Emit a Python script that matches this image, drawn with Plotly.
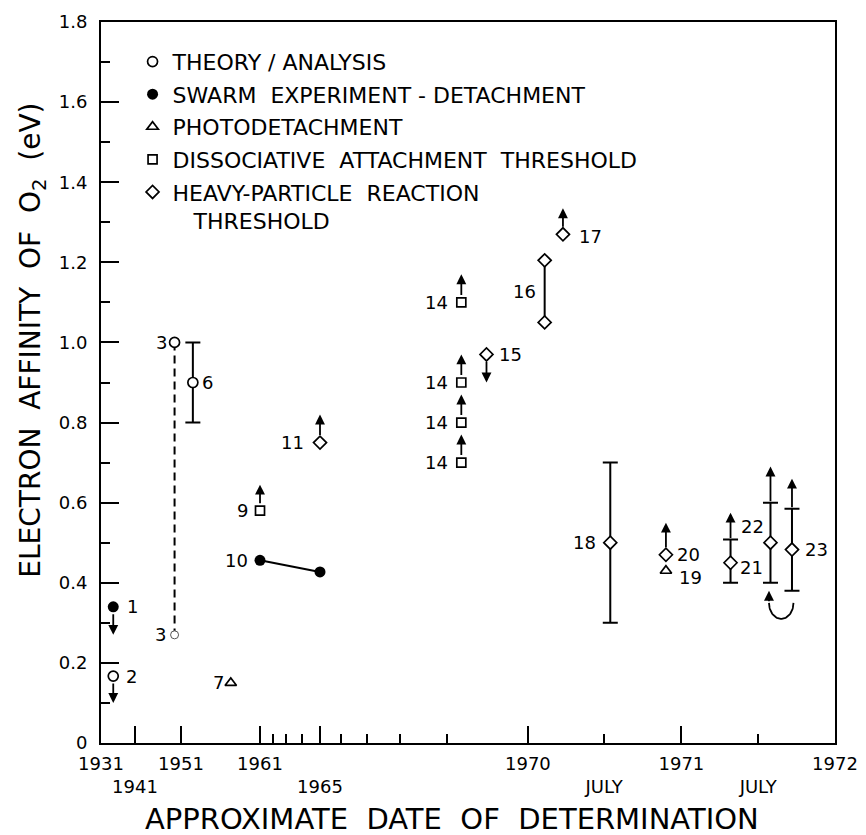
import numpy as np
import plotly.graph_objects as go

# ---------------- non-uniform time axis: date -> drawn position ----------------
AXIS_YEARS = [1931, 1941, 1951, 1961, 1962, 1963, 1964, 1965, 1966, 1967, 1968, 1969,
              1970, 1970.5, 1971, 1971.5, 1972]
AXIS_POS = [0, 34, 80, 159, 171.7, 184.7, 201, 219, 239.7, 265.7, 299, 345.7,
            426.9, 503.1, 580.4, 657.2, 734]


def tx(years):
    return [float(v) for v in np.interp(np.atleast_1d(years), AXIS_YEARS, AXIS_POS)]


MAJOR_TICK_YEARS = [1941, 1951, 1961, 1965, 1970, 1971]
MINOR_TICK_YEARS = [1962, 1963, 1964, 1966, 1967, 1968, 1969, 1970.5, 1971.5]
LABEL_YEARS = [1931, 1941, 1951, 1961, 1965, 1970, 1970.5, 1971, 1971.5, 1972]
LABEL_TEXT = ["1931", "<br>1941", "1951", "1961", "<br>1965", "1970",
              "<br>JULY", "1971", "<br>JULY", "1972"]

Y_TICKS = [0, 0.2, 0.4, 0.6, 0.8, 1.0, 1.2, 1.4, 1.6, 1.8]
Y_TICK_TEXT = ["0", "0.2", "0.4", "0.6", "0.8", "1.0", "1.2", "1.4", "1.6", "1.8"]
Y_MINOR = [0.1, 0.3, 0.5, 0.7, 0.9, 1.1, 1.3, 1.5, 1.7]

# ---------------- data (electron affinity of O2, eV) ----------------
# Theory / analysis (open circles)
theory_year = [1934.6, 1949.6, 1952.5]
theory_ea = [0.167, 1.00, 0.90]
ref3_year = 1949.6
ref3_low = 0.27          # dashed range lower end (ref 3)

# Swarm experiment - detachment (filled circles)
swarm_year = [1934.6, 1961, 1965]
swarm_ea = [0.34, 0.456, 0.427]
ref10_year = [1961, 1965]
ref10_ea = [0.456, 0.427]

# Photodetachment (triangles)
photo_year = [1957.3, 1970.9]
photo_ea = [0.15, 0.43]

# Dissociative attachment threshold (squares)
dissoc_year = [1961, 1969.18, 1969.18, 1969.18, 1969.18]
dissoc_ea = [0.58, 1.10, 0.90, 0.80, 0.70]

# Heavy-particle reaction threshold (diamonds)
heavy_year = [1965, 1969.49, 1970.11, 1970.11, 1970.23, 1970.54, 1970.9, 1971.32, 1971.58, 1971.72]
heavy_ea = [0.75, 0.97, 1.205, 1.05, 1.27, 0.50, 0.47, 0.45, 0.50, 0.483]
ref16_year = [1970.11, 1970.11]
ref16_ea = [1.205, 1.05]

# Error bars (center, upper, lower)
bar_year = [1952.5, 1970.54, 1971.32, 1971.58, 1971.72]
bar_center = [0.90, 0.50, 0.45, 0.50, 0.483]
bar_hi = [1.00, 0.70, 0.508, 0.60, 0.585]
bar_lo = [0.80, 0.30, 0.40, 0.40, 0.38]

# Limit arrows (from -> to)
arrow_year = [1934.6, 1934.6, 1961, 1965, 1969.18, 1969.18, 1969.18, 1969.18,
              1969.49, 1970.23, 1970.9, 1971.32, 1971.58, 1971.72]
arrow_from = [0.34, 0.167, 0.58, 0.75, 1.10, 0.90, 0.80, 0.70,
              0.97, 1.27, 0.47, 0.508, 0.60, 0.585]
arrow_to = [0.27, 0.10, 0.645, 0.82, 1.17, 0.97, 0.87, 0.77,
            0.90, 1.335, 0.55, 0.575, 0.69, 0.66]
arrow_from_marker = [True, True, True, True, True, True, True, True,
                     True, True, True, False, False, False]

# Reference-number labels
ref_text = ["1", "2", "3", "3", "6", "7", "9", "10", "11", "14", "14", "14", "14",
            "15", "16", "17", "18", "19", "20", "21", "22", "23"]
ref_year = [1934.6, 1934.6, 1949.6, 1949.6, 1952.5, 1957.3, 1961, 1961, 1965,
            1969.18, 1969.18, 1969.18, 1969.18, 1969.49, 1970.11, 1970.23, 1970.54,
            1970.9, 1970.9, 1971.32, 1971.58, 1971.72]
ref_ea = [0.34, 0.167, 1.00, 0.27, 0.90, 0.15, 0.58, 0.456, 0.75,
          1.10, 0.90, 0.80, 0.70, 0.97, 1.128, 1.27, 0.50,
          0.43, 0.47, 0.45, 0.50, 0.483]
# label placement (style): side of point, pixel shifts
ref_side = ["L", "L", "R", "R", "L", "R", "R", "R", "R", "R", "R", "R", "R",
            "L", "R", "L", "R", "L", "L", "L", "R", "L"]
ref_dx = [12, 11, -6, -7, 7, -5, -10, -10, -14, -11, -11, -11, -11,
          11, -7, 14, -12, 11, 9, 7, -4, 11]
ref_dy = [0, 0, 0, 0, 0, 0, 0, 0, 0, 0, 0, 0, 0,
          0, 0, -2, 0, -7, 0, -5, 16, 0]

# curved arrow between refs 22 and 23
curve_years = [1971.58, 1971.72]
curve_top = 0.35
curve_depth = 0.04
curve_tip = 0.38

FONT = "DejaVu Sans"
BLACK = "black"
X_RANGE = [-0.01, 734.01]

fig = go.Figure()

# connecting / range lines
fig.add_trace(go.Scatter(x=tx([ref3_year, ref3_year]), y=[theory_ea[1], ref3_low], mode="lines",
                         line=dict(color=BLACK, width=2, dash="8px,5px"), showlegend=False,
                         hoverinfo="skip"))
fig.add_trace(go.Scatter(x=tx(ref10_year), y=ref10_ea, mode="lines",
                         line=dict(color=BLACK, width=2), showlegend=False, hoverinfo="skip"))
fig.add_trace(go.Scatter(x=tx(ref16_year), y=ref16_ea, mode="lines",
                         line=dict(color=BLACK, width=2), showlegend=False, hoverinfo="skip"))

# error bars
fig.add_trace(go.Scatter(
    x=tx(bar_year), y=bar_center, mode="markers",
    marker=dict(size=1, opacity=0),
    error_y=dict(type="data", symmetric=False,
                 array=[h - c for h, c in zip(bar_hi, bar_center)],
                 arrayminus=[c - l for c, l in zip(bar_center, bar_lo)],
                 color=BLACK, thickness=2, width=7.5),
    showlegend=False, hoverinfo="skip"))

# curved arrow (refs 22/23)
cx = sum(tx(curve_years)) / 2
rx = (tx(curve_years)[1] - tx(curve_years)[0]) / 2 + 1.5
th = np.linspace(0, np.pi, 40)
fig.add_trace(go.Scatter(x=list(cx + rx * np.cos(th)), y=list(curve_top - curve_depth * np.sin(th)),
                         mode="lines", line=dict(color=BLACK, width=1.8), showlegend=False,
                         hoverinfo="skip"))

open_marker = dict(color="white", line=dict(color=BLACK, width=1.7))

# ref 3 lower (dotted) circle
fig.add_trace(go.Scatter(x=tx([ref3_year]), y=[ref3_low], mode="markers",
                         marker=dict(symbol="circle", size=8, color="white",
                                     line=dict(color="#555", width=1)),
                         showlegend=False, hoverinfo="skip"))

fig.add_trace(go.Scatter(x=tx(theory_year), y=theory_ea, mode="markers",
                         marker=dict(symbol="circle", size=10, **open_marker), showlegend=False))
fig.add_trace(go.Scatter(x=tx(swarm_year), y=swarm_ea, mode="markers",
                         marker=dict(symbol="circle", size=11, color=BLACK), showlegend=False))
fig.add_trace(go.Scatter(x=tx(photo_year), y=photo_ea, mode="markers",
                         marker=dict(symbol="triangle-up", size=10, **open_marker), showlegend=False))
fig.add_trace(go.Scatter(x=tx(dissoc_year), y=dissoc_ea, mode="markers",
                         marker=dict(symbol="square", size=9, **open_marker), showlegend=False))
fig.add_trace(go.Scatter(x=tx(heavy_year), y=heavy_ea, mode="markers",
                         marker=dict(symbol="diamond", size=10, **open_marker), showlegend=False))

# dummy trace so that the label axis (x2) is drawn
fig.add_trace(go.Scatter(x=[None], y=[None], xaxis="x2", yaxis="y", mode="markers",
                         showlegend=False, hoverinfo="skip"))

# legend-only entries
legend_items = [
    ("THEORY / ANALYSIS", dict(symbol="circle", size=10, **open_marker)),
    ("SWARM  EXPERIMENT - DETACHMENT", dict(symbol="circle", size=11, color=BLACK)),
    ("PHOTODETACHMENT", dict(symbol="triangle-up", size=10, **open_marker)),
    ("DISSOCIATIVE  ATTACHMENT  THRESHOLD", dict(symbol="square", size=9, **open_marker)),
    ("HEAVY-PARTICLE  REACTION<br>\u00a0\u00a0\u00a0THRESHOLD", dict(symbol="diamond", size=10, **open_marker)),
]
for i, (name, mk) in enumerate(legend_items):
    fig.add_trace(go.Scatter(x=[None], y=[None], mode="markers", marker=mk, name=name,
                             legendgroup=f"g{i}", showlegend=True))

annotations = []
# limit arrows
for yr, a0, a1, fm in zip(arrow_year, arrow_from, arrow_to, arrow_from_marker):
    px = tx([yr])[0]
    annotations.append(dict(x=px, y=a1, ax=px, ay=a0, xref="x", yref="y", axref="x", ayref="y",
                            showarrow=True, arrowhead=2, arrowsize=1.1, arrowwidth=1.8,
                            arrowcolor=BLACK, startstandoff=6 if fm else 0, text=""))
# curved arrow tip
lx = cx - rx
annotations.append(dict(x=lx, y=curve_tip, ax=lx, ay=curve_top, xref="x", yref="y", axref="x",
                        ayref="y", showarrow=True, arrowhead=2, arrowsize=1.1, arrowwidth=1.8,
                        arrowcolor=BLACK, text=""))
# reference labels
for t, yr, v, s, dx, dy in zip(ref_text, ref_year, ref_ea, ref_side, ref_dx, ref_dy):
    annotations.append(dict(x=tx([yr])[0], y=v, xref="x", yref="y", text=t, showarrow=False,
                            xanchor="left" if s == "L" else "right", yanchor="middle",
                            xshift=dx, yshift=dy, font=dict(family=FONT, size=18, color=BLACK)))
# axis titles
annotations.append(dict(x=-0.0926, y=0.558, xref="paper", yref="paper",
                        text="ELECTRON  AFFINITY  OF  O<sub>2</sub>  (eV)", textangle=-90,
                        showarrow=False, xanchor="center", yanchor="middle",
                        font=dict(family=FONT, size=28, color=BLACK)))
annotations.append(dict(x=0.478, y=-0.105, xref="paper", yref="paper",
                        text="APPROXIMATE  DATE  OF  DETERMINATION", showarrow=False,
                        xanchor="center", yanchor="middle",
                        font=dict(family=FONT, size=29, color=BLACK)))

fig.update_layout(
    width=866, height=835,
    margin=dict(l=101, r=31, t=22, b=92, autoexpand=False),
    paper_bgcolor="white", plot_bgcolor="white",
    font=dict(family=FONT, color=BLACK),
    showlegend=True,
    legend=dict(x=0.043, y=0.974, xanchor="left", yanchor="top", bgcolor="rgba(0,0,0,0)",
                font=dict(family=FONT, size=22, color=BLACK), traceorder="grouped",
                tracegroupgap=1, valign="top", itemclick=False),
    xaxis=dict(range=X_RANGE, showgrid=False, zeroline=False, showline=True, linecolor=BLACK,
               linewidth=2, mirror=True, ticks="inside", ticklen=17, tickwidth=1.8,
               tickcolor=BLACK, tickvals=tx(MAJOR_TICK_YEARS), showticklabels=False,
               automargin=False,
               minor=dict(tickvals=tx(MINOR_TICK_YEARS), ticks="inside", ticklen=9,
                          tickwidth=1.8, tickcolor=BLACK)),
    xaxis2=dict(range=X_RANGE, overlaying="x", anchor="y", side="bottom", showgrid=False,
                zeroline=False, showline=False, ticks="", tickvals=tx(LABEL_YEARS),
                ticktext=LABEL_TEXT, tickangle=0, automargin=False,
                tickfont=dict(family=FONT, size=18, color=BLACK), ticklabelstandoff=8),
    yaxis=dict(range=[0, 1.8], showgrid=False, zeroline=False, showline=True, linecolor=BLACK,
               linewidth=2, mirror=True, ticks="inside", ticklen=18, tickwidth=1.8,
               tickcolor=BLACK, tickvals=Y_TICKS, ticktext=Y_TICK_TEXT, automargin=False,
               tickfont=dict(family=FONT, size=18, color=BLACK), ticklabelstandoff=8,
               minor=dict(tickvals=Y_MINOR, ticks="inside", ticklen=9, tickwidth=1.8,
                          tickcolor=BLACK)),
    annotations=annotations,
)

fig.write_html("out.html")
